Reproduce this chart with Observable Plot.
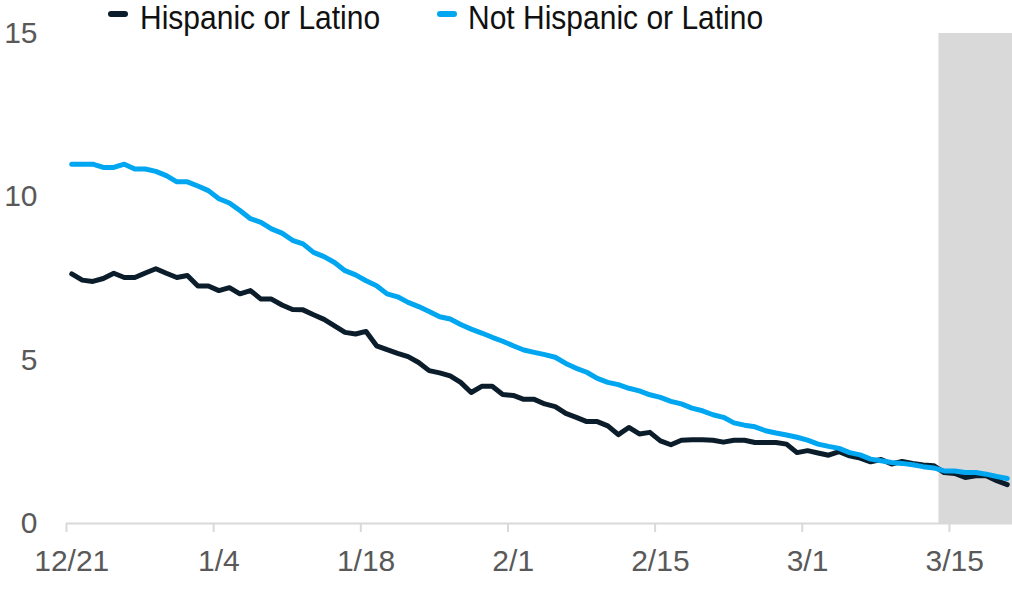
<!DOCTYPE html>
<html>
<head>
<meta charset="utf-8">
<script src="https://cdn.jsdelivr.net/npm/d3@7"></script>
<script src="https://cdn.jsdelivr.net/npm/@observablehq/plot@0.6"></script>
<style>
  html, body { margin: 0; padding: 0; background: #fff; }
  #wrap { position: relative; width: 1012px; height: 592px; font-family: "Liberation Sans", Arial, sans-serif; }
  .leg { position: absolute; top: 3px; font-size: 30px; line-height: 30px; color: #111; white-space: nowrap; transform: scaleY(1.08); transform-origin: 50% 50%; }
  .sw { position: absolute; width: 20px; height: 6px; border-radius: 3px; }
</style>
</head>
<body>
<div id="wrap"></div>
<script>
// ---- Data ----
const startDate = "2020-12-21";          // first daily point
const domainEnd = "2021-03-21";          // right edge of the x axis
const shadeStart = "2021-03-14";         // start of the grey shaded period
const seriesNames = ["Hispanic or Latino", "Not Hispanic or Latino"];
const seriesColors = ["#0b1d2b", "#00a6f0"];

const hispanic = [
  7.64, 7.45, 7.41, 7.50, 7.66, 7.53, 7.53, 7.67, 7.80, 7.66,
  7.53, 7.59, 7.27, 7.27, 7.13, 7.22, 7.03, 7.13, 6.87, 6.87,
  6.69, 6.55, 6.54, 6.39, 6.25, 6.05, 5.85, 5.80, 5.88, 5.44,
  5.32, 5.21, 5.11, 4.93, 4.68, 4.61, 4.52, 4.32, 4.01, 4.20,
  4.20, 3.95, 3.92, 3.80, 3.80, 3.66, 3.58, 3.37, 3.25, 3.12,
  3.12, 2.99, 2.72, 2.94, 2.74, 2.79, 2.53, 2.41, 2.55, 2.56,
  2.56, 2.55, 2.49, 2.55, 2.55, 2.48, 2.48, 2.48, 2.43, 2.17,
  2.23, 2.16, 2.09, 2.20, 2.07, 2.00, 1.89, 1.96, 1.82, 1.90,
  1.84, 1.79, 1.77, 1.56, 1.53, 1.41, 1.46, 1.46, 1.31, 1.19
];
const notHispanic = [
  11.0, 11.0, 11.0, 10.9, 10.9, 11.0, 10.85, 10.85, 10.78, 10.65,
  10.46, 10.46, 10.33, 10.19, 9.94, 9.81, 9.58, 9.33, 9.22, 9.02,
  8.89, 8.67, 8.56, 8.30, 8.17, 7.99, 7.74, 7.61, 7.43, 7.28,
  7.03, 6.94, 6.77, 6.64, 6.49, 6.33, 6.26, 6.09, 5.95, 5.83,
  5.70, 5.58, 5.44, 5.31, 5.24, 5.17, 5.09, 4.90, 4.75, 4.63,
  4.44, 4.32, 4.25, 4.14, 4.06, 3.94, 3.86, 3.74, 3.66, 3.53,
  3.45, 3.33, 3.25, 3.08, 3.01, 2.96, 2.84, 2.77, 2.71, 2.64,
  2.55, 2.43, 2.36, 2.30, 2.17, 2.10, 1.97, 1.92, 1.87, 1.84,
  1.80, 1.74, 1.70, 1.61, 1.61, 1.56, 1.56, 1.51, 1.44, 1.38
];
const xTickDates = ["2020-12-21", "2021-01-04", "2021-01-18", "2021-02-01", "2021-02-15", "2021-03-01", "2021-03-15"];
const xTickLabels = ["12/21", "1/4", "1/18", "2/1", "2/15", "3/1", "3/15"];
const yTicks = [0, 5, 10, 15];

// ---- Build table ----
const DAY = 86400000;
const t0 = Date.parse(startDate + "T00:00:00Z");
const rows = [];
[hispanic, notHispanic].forEach((vals, s) => {
  vals.forEach((v, i) => rows.push({date: new Date(t0 + i * DAY + DAY / 2), value: v, series: seriesNames[s]}));
});
const tickDates = xTickDates.map(d => new Date(d + "T00:00:00Z"));
// labels sit in the middle of their day (as in the reference), ticks on day boundaries
const labelDates = tickDates.map(d => new Date(+d + DAY / 2));
const labelMap = new Map(labelDates.map((d, i) => [+d, xTickLabels[i]]));

const chart = Plot.plot({
  width: 1012,
  height: 592,
  marginLeft: 66,
  marginRight: 0,
  marginTop: 33,
  marginBottom: 69,
  style: {fontFamily: "'Liberation Sans', Arial, sans-serif", fontSize: "30px", background: "transparent", overflow: "visible"},
  x: {type: "utc", domain: [new Date(startDate + "T00:00:00Z"), new Date(domainEnd + "T00:00:00Z")]},
  y: {domain: [0, 15]},
  color: {domain: seriesNames, range: seriesColors},
  marks: [
    Plot.rectY([{x1: new Date(shadeStart + "T00:00:00Z"), x2: new Date(domainEnd + "T00:00:00Z")}],
      {x1: "x1", x2: "x2", y1: 0, y2: 15, fill: "#d9d9d9"}),
    Plot.ruleY([0], {stroke: "#d9d9d9", strokeWidth: 2}),
    Plot.axisX({ticks: tickDates, tickSize: 9, text: null, stroke: "#d9d9d9", strokeWidth: 2}),
    Plot.axisX({ticks: labelDates, tickSize: 0, tickPadding: 26, tickFormat: d => labelMap.get(+d), fill: "#595959", label: null}),
    Plot.axisY({ticks: yTicks, tickSize: 0, tickPadding: 29, fill: "#595959", label: null}),
    Plot.lineY(rows.filter(r => r.series === seriesNames[0]), {x: "date", y: "value", stroke: seriesColors[0], strokeWidth: 5, strokeLinejoin: "round", strokeLinecap: "round"}),
    Plot.lineY(rows.filter(r => r.series === seriesNames[1]), {x: "date", y: "value", stroke: seriesColors[1], strokeWidth: 5, strokeLinejoin: "round", strokeLinecap: "round"})
  ]
});

const wrap = document.getElementById("wrap");
wrap.appendChild(chart);
chart.style.position = "absolute";
chart.style.left = "0px";
chart.style.top = "0px";

// Legend (HTML, overlaid at the top)
const legendPos = [{sw: 108, tx: 140}, {sw: 437, tx: 468}];
seriesNames.forEach((name, i) => {
  const sw = document.createElement("div");
  sw.className = "sw";
  sw.style.left = legendPos[i].sw + "px";
  sw.style.top = "11px";
  sw.style.background = seriesColors[i];
  wrap.appendChild(sw);
  const tx = document.createElement("div");
  tx.className = "leg";
  tx.style.left = legendPos[i].tx + "px";
  tx.textContent = name;
  wrap.appendChild(tx);
});
</script>
</body>
</html>
